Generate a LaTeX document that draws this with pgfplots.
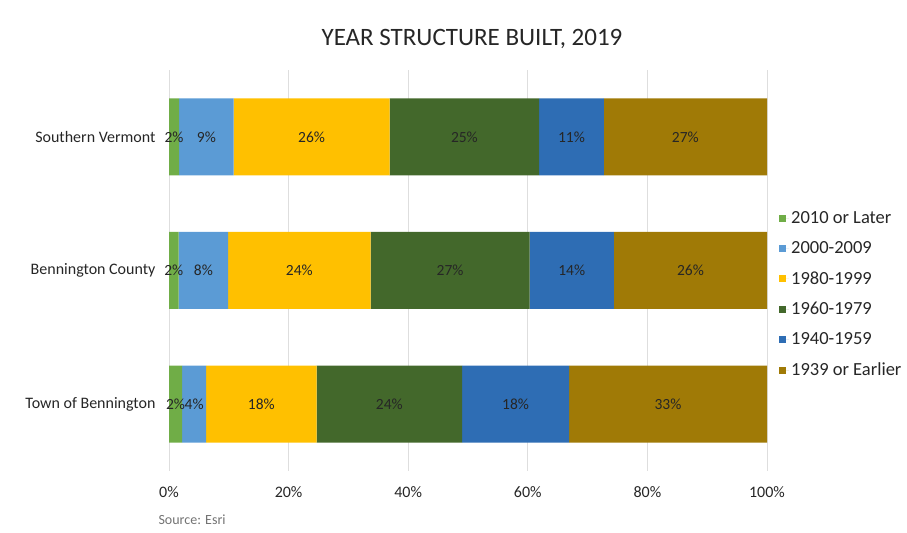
\documentclass[border=0pt]{standalone}
\usepackage{pgfplots}
\pgfplotsset{compat=1.18}
\usepackage{fontspec}
\setmainfont{Carlito}

\definecolor{cLater}{HTML}{70AD47}
\definecolor{c2000}{HTML}{5B9BD5}
\definecolor{c1980}{HTML}{FFC000}
\definecolor{c1960}{HTML}{43682B}
\definecolor{c1940}{HTML}{2E6DB4}
\definecolor{cEarlier}{HTML}{A07A06}
\definecolor{txt}{HTML}{262626}

\begin{document}
\begin{tikzpicture}
\path[use as bounding box] (0,0) rectangle (907bp,533bp);
\begin{axis}[
    at={(169bp,62bp)}, anchor=south west,
    scale only axis,
    width=598bp, height=401bp,
    xbar stacked,
    bar width=77bp,
    xmin=0, xmax=100,
    ymin=-0.5, ymax=2.5,
    xtick={0,20,40,60,80,100},
    xticklabel={\pgfmathprintnumber{\tick}\%},
    /pgf/number format/assume math mode=true,
    ytick={0,1,2},
    yticklabels={Town of Bennington, Bennington County, Southern Vermont},
    ticklabel style={font=\fontsize{16bp}{18bp}\selectfont, text=txt},
    xticklabel style={yshift=-12bp},
    yticklabel style={xshift=-10bp},
    axis line style={draw=none},
    major tick length=0pt,
    xmajorgrids,
    grid style={draw=black!13, line width=0.8bp},
    point meta=explicit symbolic,
    nodes near coords,
    every node near coord/.append style={font=\fontsize{15.5bp}{18bp}\selectfont, text=txt},
    legend style={at={(1.015,0.44)}, anchor=west, draw=none, fill=none,
        font=\fontsize{18.5bp}{20bp}\selectfont, row sep=12.5bp, text=txt},
    legend cell align=left,
    legend image code/.code={\fill[#1, draw=none] (0bp,-3.5bp) rectangle (7bp,3.5bp);
        \path (0bp,0bp) -- (10bp,0bp);},
]
\addplot[fill=cLater, draw=none] coordinates {(2.2,0) [2\%] (1.6,1) [2\%] (1.7,2) [2\%]};
\addlegendentry{2010 or Later}
\addplot[fill=c2000, draw=none] coordinates {(4.0,0) [4\%] (8.3,1) [8\%] (9.1,2) [9\%]};
\addlegendentry{2000-2009}
\addplot[fill=c1980, draw=none] coordinates {(18.5,0) [18\%] (23.8,1) [24\%] (26.1,2) [26\%]};
\addlegendentry{1980-1999}
\addplot[fill=c1960, draw=none] coordinates {(24.3,0) [24\%] (26.6,1) [27\%] (25.0,2) [25\%]};
\addlegendentry{1960-1979}
\addplot[fill=c1940, draw=none] coordinates {(17.9,0) [18\%] (14.1,1) [14\%] (10.8,2) [11\%]};
\addlegendentry{1940-1959}
\addplot[fill=cEarlier, draw=none] coordinates {(33.1,0) [33\%] (25.6,1) [26\%] (27.3,2) [27\%]};
\addlegendentry{1939 or Earlier}
\end{axis}
\node[font=\fontsize{25bp}{28bp}\selectfont, text=txt] at (472bp,494bp) {YEAR STRUCTURE BUILT, 2019};
\node[anchor=west, font=\fontsize{14bp}{16bp}\selectfont, text=black!55] at (155bp,13bp) {Source: Esri};
\end{tikzpicture}
\end{document}
